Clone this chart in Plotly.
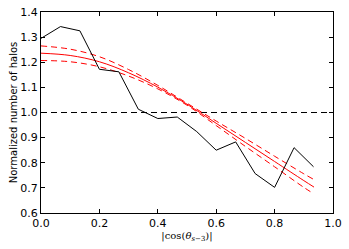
import plotly.graph_objects as go

# Binned measurement (black line)
cos_bins = [0.0, 0.0667, 0.1333, 0.2, 0.2667, 0.3333, 0.4, 0.4667, 0.5333,
            0.6, 0.6667, 0.7333, 0.8, 0.8667, 0.9333]
halo_counts = [1.295, 1.342, 1.325, 1.172, 1.162, 1.013, 0.976, 0.982, 0.924,
               0.850, 0.883, 0.757, 0.702, 0.860, 0.784]

# Fit (red) with its upper and lower envelopes
fit_x = [0.0, 0.1, 0.2, 0.3, 0.4, 0.5, 0.6, 0.7, 0.8, 0.9, 0.935]
fit_mid = [1.236, 1.227, 1.202, 1.158, 1.101, 1.033, 0.957, 0.881, 0.805, 0.729, 0.703]
fit_upper = [1.265, 1.252, 1.222, 1.171, 1.108, 1.037, 0.966, 0.897, 0.826, 0.756, 0.733]
fit_lower = [1.207, 1.202, 1.182, 1.145, 1.094, 1.029, 0.948, 0.865, 0.784, 0.702, 0.676]

# Reference level
ref_x = [0.0, 1.0]
ref_y = [1.0, 1.0]

x_ticks = [0.0, 0.2, 0.4, 0.6, 0.8, 1.0]
x_ticklabels = ["0.0", "0.2", "0.4", "0.6", "0.8", "1.0"]
y_ticks = [0.6, 0.7, 0.8, 0.9, 1.0, 1.1, 1.2, 1.3, 1.4]
y_ticklabels = ["0.6", "0.7", "0.8", "0.9", "1.0", "1.1", "1.2", "1.3", "1.4"]

fig = go.Figure()
fig.add_trace(go.Scatter(x=ref_x, y=ref_y, mode="lines",
                         line=dict(color="black", width=1, dash="6px,4px")))
fig.add_trace(go.Scatter(x=fit_x, y=fit_upper, mode="lines", line_shape="spline",
                         line=dict(color="red", width=1, dash="6px,4px")))
fig.add_trace(go.Scatter(x=fit_x, y=fit_lower, mode="lines", line_shape="spline",
                         line=dict(color="red", width=1, dash="6px,4px")))
fig.add_trace(go.Scatter(x=fit_x, y=fit_mid, mode="lines", line_shape="spline",
                         line=dict(color="red", width=1)))
fig.add_trace(go.Scatter(x=cos_bins, y=halo_counts, mode="lines",
                         line=dict(color="black", width=1)))

axis_common = dict(
    showgrid=False, zeroline=False, showline=True, linecolor="black", linewidth=1,
    mirror="allticks", ticks="inside", ticklen=4, tickwidth=1, tickcolor="black",
    tickfont=dict(family="DejaVu Sans", size=11, color="black"),
    automargin=False,
)

fig.update_xaxes(range=[0, 1], tickvals=x_ticks, ticktext=x_ticklabels,
                 title=dict(text="|cos(<i>θ</i><sub><i>s</i>−3</sub>)|",
                            font=dict(family="DejaVu Serif", size=10, color="black"),
                            standoff=2),
                 **axis_common)
fig.update_yaxes(range=[0.6, 1.4], tickvals=y_ticks, ticktext=y_ticklabels,
                 title=dict(text="Normalized number of halos",
                            font=dict(family="DejaVu Sans", size=10, color="black"),
                            standoff=0),
                 **axis_common)

fig.update_layout(
    width=349, height=249,
    margin=dict(l=41, r=16, t=12, b=36),
    paper_bgcolor="white", plot_bgcolor="white",
    showlegend=False,
)

fig.write_html("out.html", config={"displayModeBar": False},
               post_script="document.body.style.margin='0';document.body.style.overflow='hidden';")
